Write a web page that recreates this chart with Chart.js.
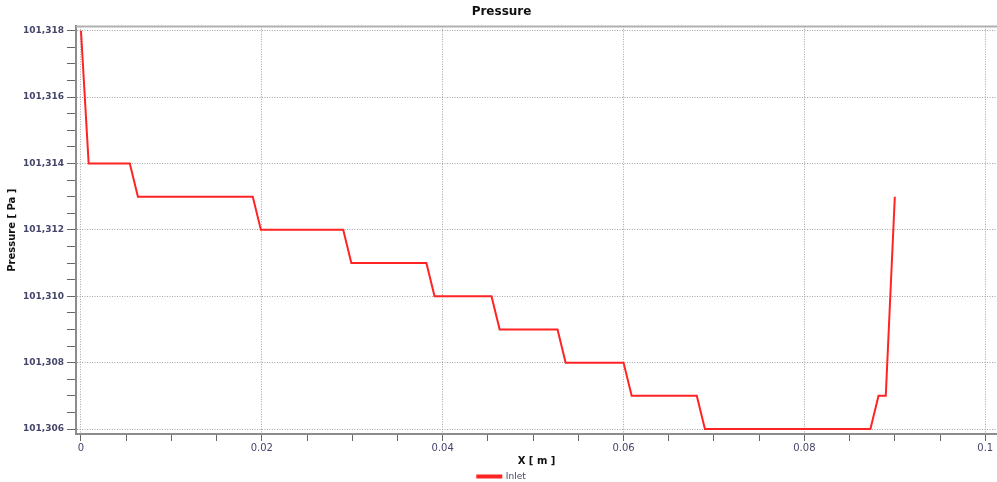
<!DOCTYPE html>
<html lang="en">
<head>
    <meta charset="UTF-8">
    <title>Pressure</title>
    <script src="https://cdn.jsdelivr.net/npm/chart.js"></script>
    <style>
        html, body { margin: 0; padding: 0; background: #fff; }
        .chart-container { width: 997px; height: 482px; }
    </style>
</head>
<body>
    <div class="chart-container">
        <canvas id="graficoPresion"></canvas>
    </div>

    <script>
        // Datos (X en metros, presion en Pa)
        const xPos = [0, 0.00085, 0.0054, 0.0063, 0.0190, 0.0199, 0.0290, 0.0299, 0.0382, 0.0391,
                      0.0454, 0.0463, 0.0527, 0.0536, 0.0600, 0.0609, 0.0681, 0.0690, 0.0873,
                      0.0882, 0.0890, 0.0900];
        const pressure = [101318, 101314, 101314, 101313, 101313, 101312, 101312, 101311, 101311, 101310,
                          101310, 101309, 101309, 101308, 101308, 101307, 101307, 101306, 101306,
                          101307, 101307, 101313];

        const xMajorTicks = [0, 0.02, 0.04, 0.06, 0.08, 0.1];
        const yMajorTicks = [101306, 101308, 101310, 101312, 101314, 101316, 101318];

        const gridColor = '#a4a4a4';
        const axisColor = '#8c8c8c';
        const labelColor = '#45456a';

        const points = xPos.map((x, i) => ({ x: x, y: pressure[i] }));

        // ticks menores entre las principales
        function withMinors(majors, parts) {
            const out = [];
            for (let i = 0; i < majors.length; i++) {
                out.push({ value: majors[i], major: true });
                if (i < majors.length - 1) {
                    const step = (majors[i + 1] - majors[i]) / parts;
                    for (let k = 1; k < parts; k++) out.push({ value: majors[i] + k * step, major: false });
                }
            }
            return out;
        }

        const framePlugin = {
            id: 'frame',
            afterDraw(chart) {
                const { ctx, chartArea } = chart;
                ctx.save();
                ctx.strokeStyle = '#b0b0b0';
                ctx.lineWidth = 2;
                ctx.beginPath();
                ctx.moveTo(chartArea.left, chartArea.top);
                ctx.lineTo(chartArea.right, chartArea.top);
                ctx.stroke();
                ctx.restore();
            }
        };

        new Chart(document.getElementById('graficoPresion'), {
            type: 'line',
            data: {
                datasets: [{
                    label: 'Inlet',
                    data: points,
                    borderColor: '#ff2323',
                    backgroundColor: '#ff2323',
                    borderWidth: 2,
                    fill: false,
                    tension: 0,
                    pointRadius: 0
                }]
            },
            plugins: [framePlugin],
            options: {
                responsive: true,
                maintainAspectRatio: false,
                animation: false,
                layout: { padding: { left: 6, right: 0, top: 0, bottom: -9 } },
                plugins: {
                    title: {
                        display: true,
                        text: 'Pressure',
                        color: '#111',
                        font: { family: 'DejaVu Sans', size: 12, weight: 'bold' },
                        padding: { top: 5, bottom: 7 }
                    },
                    legend: {
                        position: 'bottom',
                        labels: {
                            boxWidth: 24,
                            boxHeight: 2,
                            color: '#45456a',
                            padding: 0,
                            font: { family: 'DejaVu Sans', size: 9 }
                        }
                    },
                    tooltip: { enabled: false }
                },
                scales: {
                    x: {
                        type: 'linear',
                        min: -0.00055,
                        max: 0.1013,
                        afterBuildTicks: (scale) => { scale.ticks = withMinors(xMajorTicks, 4); },
                        ticks: {
                            color: labelColor,
                            font: { family: 'DejaVu Sans', size: 10 },
                            padding: 1,
                            maxRotation: 0,
                            autoSkip: false,
                            callback: function (value, index, ticks) {
                                return ticks[index].major ? String(Math.round(value * 100) / 100) : '';
                            }
                        },
                        grid: {
                            color: (c) => (c.tick && c.tick.major) ? gridColor : 'rgba(0,0,0,0)',
                            tickColor: '#666',
                            tickLength: 7
                        },
                        border: { display: true, color: axisColor, width: 2, dash: [1, 1.5] },
                        title: {
                            display: true,
                            text: 'X [ m ]',
                            color: '#111',
                            font: { family: 'DejaVu Sans', size: 10, weight: 'bold' },
                            padding: { top: 0, bottom: 5 }
                        }
                    },
                    y: {
                        type: 'linear',
                        min: 101305.85,
                        max: 101318.13,
                        afterBuildTicks: (scale) => { scale.ticks = withMinors(yMajorTicks, 4); },
                        ticks: {
                            color: labelColor,
                            font: { family: 'DejaVu Sans', size: 9, weight: 'bold' },
                            padding: 3,
                            autoSkip: false,
                            callback: function (value, index, ticks) {
                                return ticks[index].major ? Math.round(value).toLocaleString('en-US') : '';
                            }
                        },
                        grid: {
                            color: (c) => (c.tick && c.tick.major) ? gridColor : 'rgba(0,0,0,0)',
                            tickColor: '#666',
                            tickLength: 9
                        },
                        border: { display: true, color: axisColor, width: 2, dash: [1, 1.5] },
                        title: {
                            display: true,
                            text: 'Pressure [ Pa ]',
                            color: '#111',
                            font: { family: 'DejaVu Sans', size: 10, weight: 'bold' },
                            padding: { top: 0, bottom: 2 }
                        }
                    }
                }
            }
        });
    </script>
</body>
</html>
